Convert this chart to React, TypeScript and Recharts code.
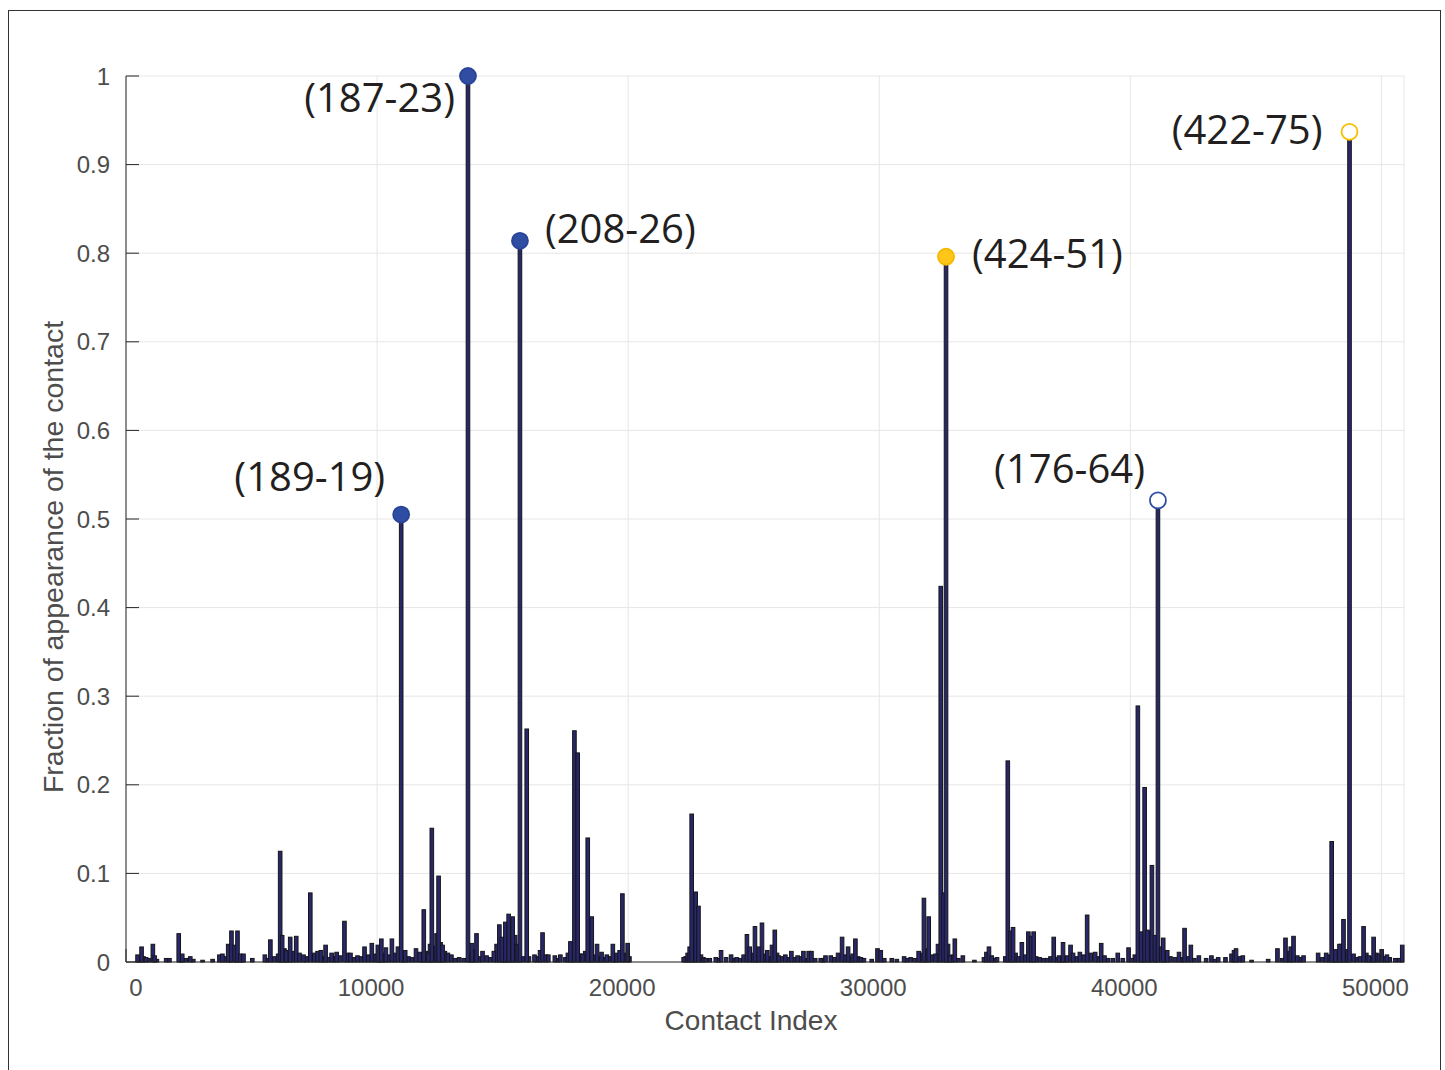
import { Bar, CartesianGrid, ComposedChart, Label, Scatter, XAxis, YAxis } from 'recharts'

// contact index / fraction of appearance
const contactIndex = [
  460, 620, 800, 1070, 1140, 1600, 1730, 2100, 2240, 2560, 3050, 3450, 3720, 3840, 4070, 4200, 4330, 4440, 4550, 4680,
  5030, 5530, 5750, 6140, 6220, 6380, 6540, 6780, 6910, 7070, 7340, 7630, 7760, 7950, 8190, 8390, 8700, 8940, 9220, 9500,
  9790, 10030, 10170, 10350, 10590, 10830, 10960, 11120, 11550, 11700, 11860, 12050, 12180, 12370, 12450, 12610, 12820,
  12960, 13270, 13620, 13780, 13960, 14200, 14360, 14650, 14870, 14970, 15110, 15240, 15400, 15690, 15960, 16270, 16490,
  16590, 16720, 16820, 17080, 17300, 17700, 17860, 17990, 18180, 18390, 18550, 18760, 18940, 19150, 19390, 19540, 19660,
  19770, 19980, 22210, 22370, 22450, 22530, 22690, 22800, 23090, 23490, 23700, 24100, 24320, 24730, 24840, 25050, 25200,
  25330, 25540, 25730, 25840, 26000, 26260, 26500, 26750, 26980, 27190, 27300, 27670, 27860, 28070, 28360, 28520, 28760,
  28940, 29050, 29390, 29930, 30060, 30500, 30990, 31250, 31570, 31780, 31970, 32240, 32450, 32560, 32660, 32810, 33010,
  33330, 33790, 34270, 34370, 34480, 34690, 35120, 35230, 35330, 35680, 35940, 36050, 36150, 36390, 36690, 36950, 37160,
  37320, 37480, 37620, 37720, 37990, 38280, 38600, 38840, 38970, 39500, 39930, 40060, 40300, 40430, 40570, 40680, 40860,
  40980, 41100, 41230, 41310, 41470, 41780, 41940, 42160, 42410, 42730, 43020, 43230, 43500, 43790, 44030, 44130, 44210,
  44480, 44830, 45490, 45860, 46180, 46390, 46500, 46650, 46900, 47480, 47800, 48020, 48170, 48330, 48490, 48650, 48730,
  48890, 49290, 49500, 49690, 49900, 50010, 50220, 50550, 50830,
]
const fraction = [
  0.008, 0.017, 0.005, 0.02, 0.007, 0.004, 0.004, 0.032, 0.009, 0.006, 0.002, 0.003, 0.008, 0.009, 0.02, 0.035, 0.019,
  0.035, 0.009, 0.009, 0.004, 0.008, 0.025, 0.125, 0.03, 0.013, 0.028, 0.029, 0.01, 0.008, 0.078, 0.012, 0.013, 0.019,
  0.01, 0.011, 0.046, 0.01, 0.007, 0.017, 0.021, 0.019, 0.026, 0.016, 0.026, 0.017, 0.505, 0.013, 0.015, 0.011, 0.059,
  0.01, 0.151, 0.032, 0.097, 0.019, 0.01, 0.008, 0.005, 1.0, 0.021, 0.032, 0.012, 0.007, 0.012, 0.042, 0.028, 0.045,
  0.054, 0.051, 0.814, 0.263, 0.008, 0.013, 0.033, 0.008, 0.008, 0.007, 0.008, 0.023, 0.261, 0.236, 0.009, 0.14, 0.051,
  0.02, 0.011, 0.008, 0.02, 0.01, 0.013, 0.077, 0.021, 0.005, 0.01, 0.017, 0.167, 0.079, 0.063, 0.004, 0.005, 0.013,
  0.008, 0.005, 0.031, 0.017, 0.04, 0.017, 0.044, 0.013, 0.019, 0.036, 0.007, 0.008, 0.012, 0.007, 0.012, 0.012, 0.012,
  0.004, 0.007, 0.007, 0.01, 0.028, 0.017, 0.009, 0.026, 0.004, 0.015, 0.013, 0.004, 0.006, 0.005, 0.012, 0.072, 0.051,
  0.009, 0.424, 0.078, 0.796, 0.007, 0.026, 0.007, 0.002, 0.011, 0.017, 0.007, 0.005, 0.227, 0.035, 0.039, 0.022, 0.034,
  0.029, 0.034, 0.005, 0.004, 0.028, 0.007, 0.022, 0.007, 0.019, 0.01, 0.011, 0.053, 0.011, 0.021, 0.007, 0.01, 0.016,
  0.004, 0.289, 0.034, 0.197, 0.036, 0.109, 0.03, 0.521, 0.017, 0.027, 0.013, 0.005, 0.011, 0.038, 0.019, 0.007, 0.004,
  0.007, 0.005, 0.005, 0.009, 0.013, 0.015, 0.007, 0.002, 0.003, 0.015, 0.027, 0.017, 0.029, 0.007, 0.007, 0.01, 0.01,
  0.136, 0.014, 0.02, 0.048, 0.014, 0.937, 0.009, 0.04, 0.007, 0.028, 0.009, 0.014, 0.008, 0.004, 0.019,
]

// the low clutter along the baseline between the visible spikes
const lowIndex = [
  540, 700, 900, 1230, 2180, 2380, 2680, 3950, 4130, 4390, 4620, 5640, 5900, 6060, 6310, 6460, 6660, 7180, 7500, 7850,
  8060, 8300, 8520, 8820, 9080, 9360, 9650, 9910, 10100, 10270, 10470, 10700, 11050, 11250, 11400, 11780, 11950, 12110,
  12280, 12530, 12700, 13100, 13450, 13700, 13870, 14080, 14500, 14760, 15040, 15170, 15320, 15500, 15600, 15800, 16050,
  16380, 17180, 17500, 17600, 17780, 18080, 18290, 18470, 18650, 18850, 19050, 19250, 19460, 19870, 20050, 22290, 22620,
  22900, 23000, 23250, 23600, 23900, 24200, 24450, 24600, 24950, 25130, 25430, 25640, 25930, 26130, 26380, 26620, 26870,
  27090, 27450, 27760, 28200, 28630, 28850, 29160, 29270, 29700, 30200, 30700, 31100, 31420, 31680, 31870, 32080, 32340,
  32740, 32920, 33150, 34170, 34580, 35020, 35430, 35550, 35800, 36250, 36550, 36820, 37060, 37240, 37400, 37860, 38150,
  38420, 38720, 39100, 39300, 39700, 40180, 40500, 40770, 41020, 41380, 41600, 42050, 42290, 42550, 43370, 44350, 46050,
  46290, 46760, 47650, 47920, 48100, 48250, 48410, 48570, 49000, 49150, 49400, 49600, 49800, 50120, 50330, 50700,
]
const lowFraction = [
  0.004, 0.006, 0.004, 0.003, 0.006, 0.004, 0.003, 0.006, 0.008, 0.012, 0.005, 0.004, 0.006, 0.009, 0.015, 0.008, 0.012,
  0.006, 0.01, 0.006, 0.005, 0.006, 0.007, 0.01, 0.005, 0.006, 0.008, 0.009, 0.012, 0.01, 0.008, 0.01, 0.008, 0.006,
  0.005, 0.008, 0.012, 0.02, 0.018, 0.022, 0.012, 0.004, 0.004, 0.01, 0.014, 0.006, 0.005, 0.02, 0.018, 0.03, 0.025,
  0.03, 0.02, 0.006, 0.006, 0.006, 0.004, 0.005, 0.01, 0.012, 0.009, 0.012, 0.01, 0.008, 0.006, 0.005, 0.006, 0.006,
  0.01, 0.006, 0.006, 0.025, 0.008, 0.005, 0.004, 0.004, 0.005, 0.004, 0.004, 0.008, 0.01, 0.008, 0.009, 0.006, 0.01,
  0.006, 0.005, 0.005, 0.006, 0.004, 0.004, 0.004, 0.005, 0.008, 0.006, 0.006, 0.005, 0.003, 0.004, 0.003, 0.004, 0.004,
  0.01, 0.015, 0.008, 0.02, 0.02, 0.008, 0.004, 0.005, 0.004, 0.006, 0.01, 0.006, 0.008, 0.006, 0.004, 0.006, 0.005,
  0.006, 0.006, 0.006, 0.008, 0.01, 0.006, 0.004, 0.004, 0.004, 0.008, 0.03, 0.035, 0.02, 0.012, 0.006, 0.005, 0.006,
  0.004, 0.003, 0.006, 0.004, 0.012, 0.005, 0.005, 0.008, 0.01, 0.01, 0.02, 0.012, 0.005, 0.006, 0.01, 0.006, 0.01,
  0.006, 0.005, 0.004,
]

// highlighted contacts
const markerName = ['(189-19)', '(187-23)', '(208-26)', '(424-51)', '(176-64)', '(422-75)']
const markerIdx = [10960, 13620, 15690, 32660, 41100, 48730]
const markerFrac = [0.505, 1.0, 0.814, 0.796, 0.521, 0.937]
const markerKind = ['blue', 'blue', 'blue', 'yellow', 'blueOpen', 'yellowOpen']

const xTicks = [0, 10000, 20000, 30000, 40000, 50000]
const yTicks = [0, 0.1, 0.2, 0.3, 0.4, 0.5, 0.6, 0.7, 0.8, 0.9, 1]

const data = [
  ...lowIndex.map((idx, i) => ({ idx, frac: lowFraction[i] })),
  ...contactIndex.map((idx, i) => ({ idx, frac: fraction[i] })),
]
const markers = markerIdx.map((idx, i) => ({ idx, frac: markerFrac[i], name: markerName[i], kind: markerKind[i] }))

const AXIS = '#262626'
const TICK_TEXT = '#4d4d4d'
const TICK_FONT = '"Liberation Sans", Arial, Helvetica, sans-serif'
const BAR_W = 3.6

const markerStyle: Record<string, { fill: string; stroke: string }> = {
  blue: { fill: '#2f4ea3', stroke: '#2a4596' },
  yellow: { fill: '#ffc61a', stroke: '#f2b900' },
  blueOpen: { fill: '#ffffff', stroke: '#2f4ea3' },
  yellowOpen: { fill: '#ffffff', stroke: '#f5c000' },
}

// where each annotation sits relative to its marker
const labelPlacement: Record<string, { anchor: 'start' | 'end'; dx: number; dy: number }> = {
  '(189-19)': { anchor: 'end', dx: -16, dy: -39 },
  '(187-23)': { anchor: 'end', dx: -13, dy: 20 },
  '(208-26)': { anchor: 'start', dx: 25, dy: -13 },
  '(424-51)': { anchor: 'start', dx: 26, dy: -4 },
  '(176-64)': { anchor: 'end', dx: -13, dy: -33 },
  '(422-75)': { anchor: 'end', dx: -27, dy: -3 },
}

// recharts squeezes bars to the smallest gap on a number axis, so keep a fixed width
function StemBar(props: any) {
  const { x, y, width, height } = props
  if (!height || height <= 0) return null
  const mid = x + width / 2
  return (
    <rect x={mid - BAR_W / 2} y={y} width={BAR_W} height={height} fill="#29276c" stroke="#151515" strokeWidth={1} />
  )
}

function Marker(props: any) {
  const { cx, cy, payload } = props
  const st = markerStyle[payload.kind]
  const lp = labelPlacement[payload.name]
  return (
    <g>
      <circle cx={cx} cy={cy} r={8} fill={st.fill} stroke={st.stroke} strokeWidth={1.8} />
      <text
        x={cx + lp.dx}
        y={cy + lp.dy}
        textAnchor={lp.anchor}
        dominantBaseline="central"
        fontSize={40}
        fontFamily='"Open Sans", "Noto Sans", sans-serif'
        fill="#231f20"
      >
        {payload.name}
      </text>
    </g>
  )
}

function YTick(props: any) {
  const { x, y, payload } = props
  const axisX = x + 16
  return (
    <g>
      <line x1={axisX} x2={axisX + 13} y1={y} y2={y} stroke={AXIS} />
      <text x={x} y={y} textAnchor="end" dominantBaseline="central" fontSize={24} fontFamily={TICK_FONT} fill={TICK_TEXT}>
        {payload.value}
      </text>
    </g>
  )
}

function XTick(props: any) {
  const { x, y, payload } = props
  const axisY = y - 34
  const shift = payload.value === 0 ? 10 : -6
  return (
    <g>
      <line x1={x} x2={x} y1={axisY} y2={axisY - 13} stroke={AXIS} />
      <text x={x + shift} y={y} textAnchor="middle" fontSize={24} fontFamily={TICK_FONT} fill={TICK_TEXT}>
        {payload.value}
      </text>
    </g>
  )
}

function XTitle({ viewBox }: any) {
  return (
    <text
      x={viewBox.x + viewBox.width / 2 - 14}
      y={viewBox.y + 68}
      textAnchor="middle"
      fontSize={28}
      fontFamily={TICK_FONT}
      fill={TICK_TEXT}
    >
      Contact Index
    </text>
  )
}

function YTitle({ viewBox }: any) {
  const cx = 44
  const cy = viewBox.y + viewBox.height / 2 + 38
  return (
    <text
      x={cx}
      y={cy}
      transform={`rotate(-90, ${cx}, ${cy})`}
      textAnchor="middle"
      dominantBaseline="central"
      fontSize={28.5}
      fontFamily={TICK_FONT}
      fill={TICK_TEXT}
    >
      Fraction of appearance of the contact
    </text>
  )
}

export default function App() {
  return (
    <div
      style={{
        position: 'absolute',
        left: 8,
        top: 10,
        width: 1433,
        height: 1062,
        border: '1px solid #333',
        boxSizing: 'border-box',
        background: '#fff',
      }}
    >
      <ComposedChart width={1420} height={1050} data={data} margin={{ top: 65, right: 25, left: 0, bottom: 0 }}>
        <CartesianGrid stroke="#e6e6e6" />
        <XAxis
          dataKey="idx"
          type="number"
          domain={[0, 50900]}
          ticks={xTicks}
          interval={0}
          height={99}
          tickSize={0}
          tickMargin={34}
          tickLine={false}
          axisLine={{ stroke: AXIS }}
          tick={<XTick />}
          label={<Label content={XTitle} />}
        />
        <YAxis
          type="number"
          domain={[0, 1]}
          ticks={yTicks}
          interval={0}
          width={117}
          tickSize={0}
          tickMargin={16}
          tickLine={false}
          axisLine={{ stroke: AXIS }}
          tick={<YTick />}
          label={<Label content={YTitle} />}
        />
        <Bar dataKey="frac" shape={StemBar} isAnimationActive={false} />
        <Scatter data={markers} dataKey="frac" shape={Marker} isAnimationActive={false} />
      </ComposedChart>
    </div>
  )
}
